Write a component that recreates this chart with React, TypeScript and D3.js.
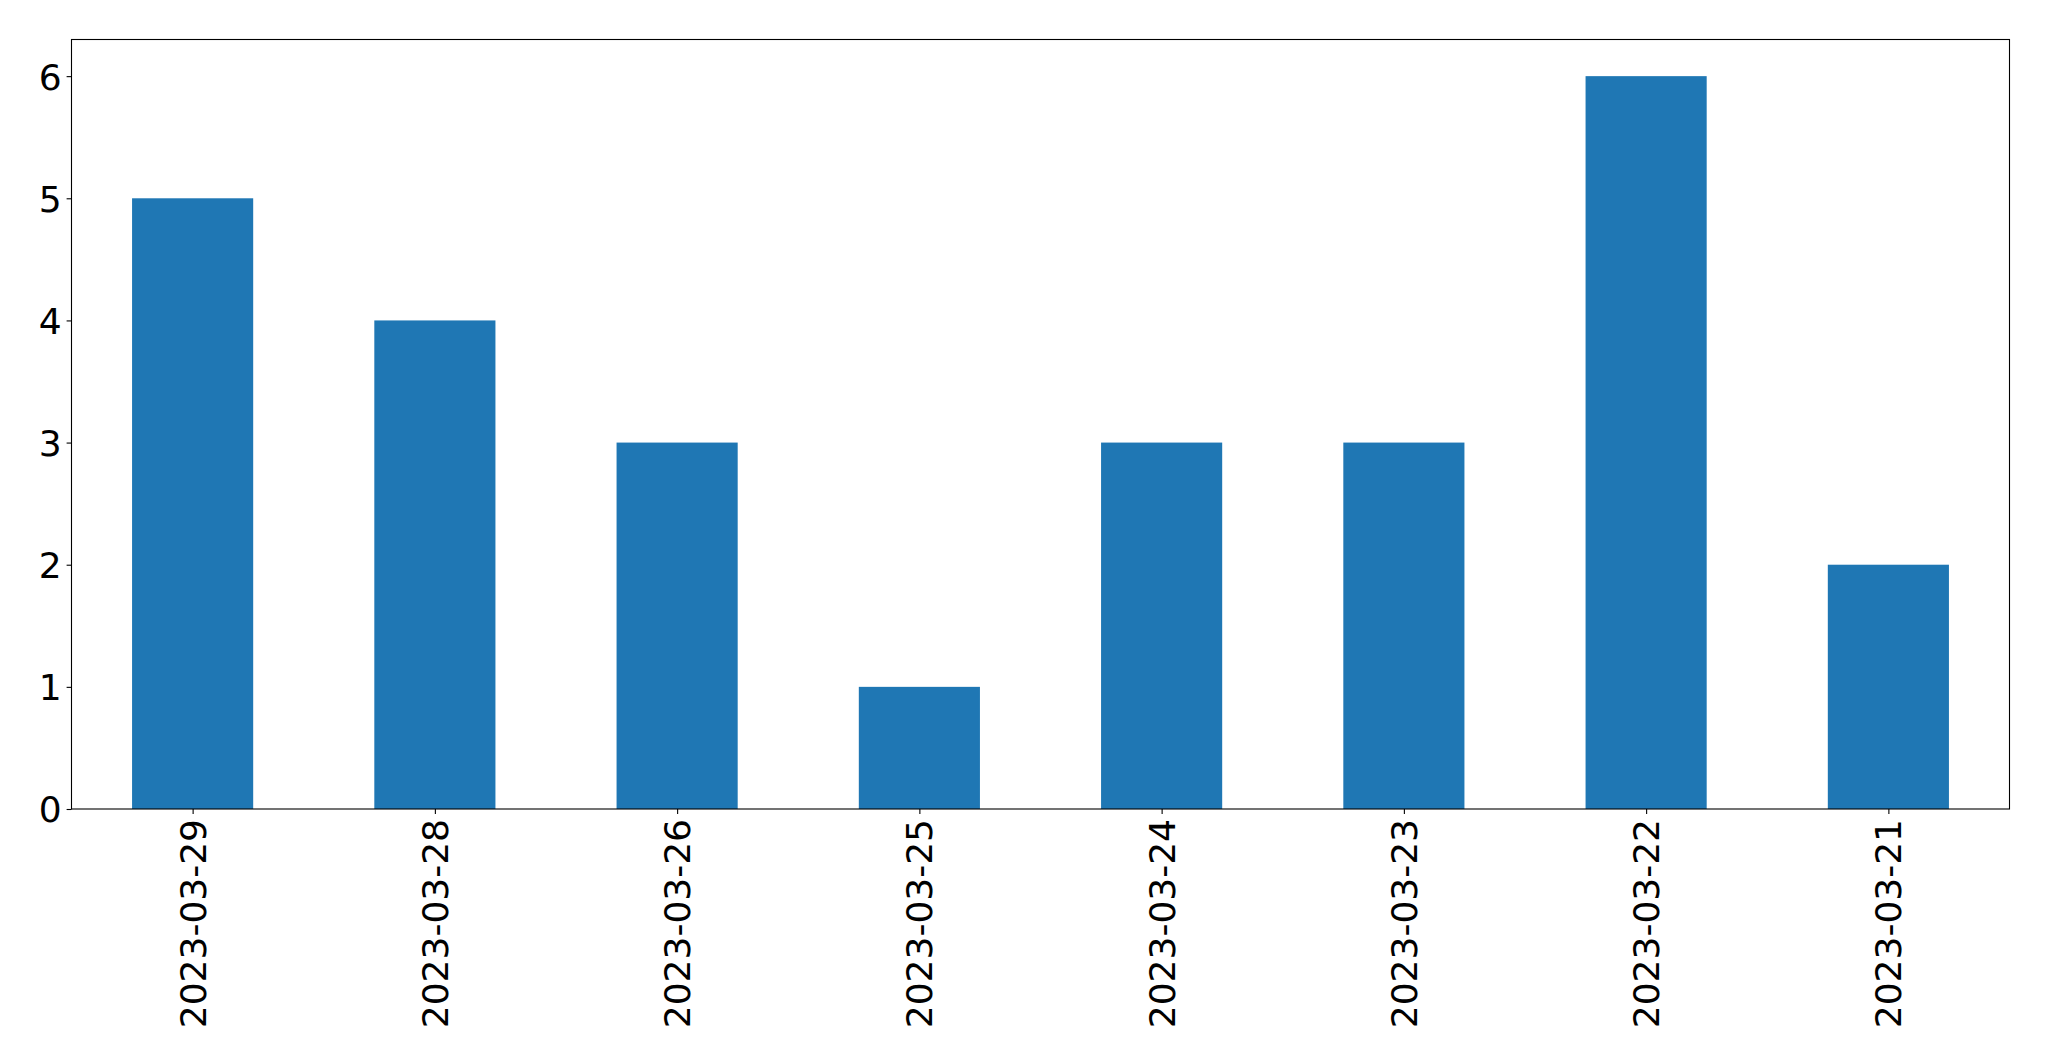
import { useEffect, useRef } from 'react';
import * as d3 from 'd3';

const dates = [
  '2023-03-29',
  '2023-03-28',
  '2023-03-26',
  '2023-03-25',
  '2023-03-24',
  '2023-03-23',
  '2023-03-22',
  '2023-03-21',
];
const counts = [5, 4, 3, 1, 3, 3, 6, 2];
const yTicks = [0, 1, 2, 3, 4, 5, 6];

const WIDTH = 2049;
const HEIGHT = 1061;
const FONT = '"DejaVu Sans", sans-serif';

export default function App() {
  const svgRef = useRef<SVGSVGElement>(null);

  useEffect(() => {
    if (!svgRef.current) return;
    const svg = d3.select(svgRef.current);
    svg.selectAll('*').remove();

    const margin = { left: 71.5, right: 39.5, top: 39.5, bottom: 252 };
    const x0 = margin.left;
    const x1 = WIDTH - margin.right;
    const y0 = HEIGHT - margin.bottom;
    const y1 = margin.top;

    // pandas style: bar at integer positions, xlim -0.5..n-0.5
    const x = d3.scaleLinear().domain([-0.5, dates.length - 0.5]).range([x0, x1]);
    const y = d3.scaleLinear().domain([0, 6.3]).range([y0, y1]);
    const barW = x(0.25) - x(-0.25);

    svg.append('rect')
      .attr('width', WIDTH)
      .attr('height', HEIGHT)
      .attr('fill', '#ffffff');

    // bars
    svg.append('g')
      .selectAll('rect')
      .data(counts)
      .join('rect')
      .attr('x', (_d, i) => x(i) - barW / 2)
      .attr('y', d => y(d))
      .attr('width', barW)
      .attr('height', d => y(0) - y(d))
      .attr('fill', '#1f77b4');

    // y axis
    const yAxis = svg.append('g')
      .attr('transform', `translate(${x0},0)`)
      .call(d3.axisLeft(y).tickValues(yTicks).tickFormat(d3.format('d')).tickSize(4.9).tickPadding(4.9));
    yAxis.select('.domain').remove();
    yAxis.selectAll('line').attr('stroke', '#000').attr('stroke-width', 1.1);
    yAxis.selectAll('text')
      .attr('font-family', FONT)
      .attr('font-size', 36)
      .attr('fill', '#000')
      .attr('dy', '0.36em');

    // x axis
    const xAxis = svg.append('g')
      .attr('transform', `translate(0,${y0})`)
      .call(
        d3.axisBottom(x)
          .tickValues(d3.range(dates.length))
          .tickFormat(i => dates[i as number])
          .tickSize(4.9)
          .tickPadding(0)
      );
    xAxis.select('.domain').remove();
    xAxis.selectAll('line').attr('stroke', '#000').attr('stroke-width', 1.1);
    xAxis.selectAll('text')
      .attr('font-family', FONT)
      .attr('font-size', 36)
      .attr('fill', '#000')
      .attr('y', 0)
      .attr('dy', '0.35em')
      .attr('text-anchor', 'end')
      .attr('transform', 'translate(0,10) rotate(-90)');

    // frame
    svg.append('rect')
      .attr('x', x0)
      .attr('y', y1)
      .attr('width', x1 - x0)
      .attr('height', y0 - y1)
      .attr('fill', 'none')
      .attr('stroke', '#000')
      .attr('stroke-width', 1.1);
  }, []);

  return (
    <svg
      ref={svgRef}
      width={WIDTH}
      height={HEIGHT}
      style={{ position: 'absolute', left: 0, top: 0, display: 'block' }}
    />
  );
}
